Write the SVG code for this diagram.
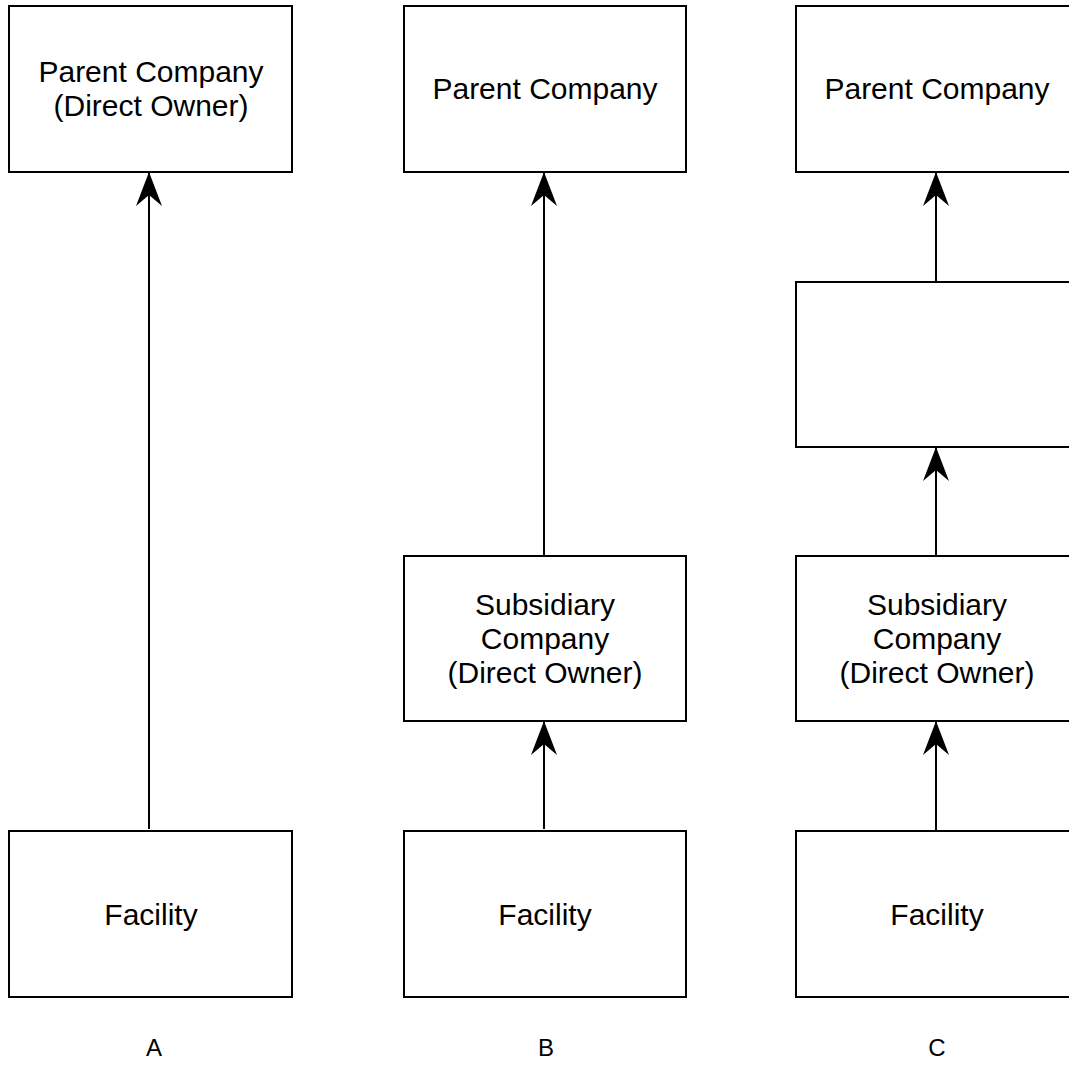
<svg xmlns="http://www.w3.org/2000/svg" width="1069" height="1069" viewBox="0 0 1069 1069">
<style>
.box{fill:#fff;stroke:#000;stroke-width:2}
.t{font-family:"Liberation Sans",Arial,sans-serif;font-size:30px;fill:#000;text-anchor:middle}
.lbl{font-family:"Liberation Sans",Arial,sans-serif;font-size:24px;fill:#000;text-anchor:middle}
.c{stroke:#000;stroke-width:2;fill:none;marker-end:url(#ah)}
</style>
<defs>
<marker id="ah" viewBox="0 0 34 26" refX="34" refY="13" markerWidth="34" markerHeight="26" markerUnits="userSpaceOnUse" orient="auto">
<path d="M0,0 L34,13 L0,26 L11,13 Z" fill="#000"/>
</marker>
</defs>
<rect width="1069" height="1069" fill="#fff"/>
<g id="connectors">
<line class="c" x1="149" y1="829" x2="149" y2="172"/>
<line class="c" x1="544" y1="555" x2="544" y2="172"/>
<line class="c" x1="544" y1="829" x2="544" y2="721"/>
<line class="c" x1="936" y1="282" x2="936" y2="172"/>
<line class="c" x1="936" y1="555" x2="936" y2="447"/>
<line class="c" x1="936" y1="833" x2="936" y2="721"/>
</g>
<g id="a-parent"><rect class="box" x="9" y="6" width="283" height="166"/><text class="t" x="151" y="82">Parent Company</text><text class="t" x="151" y="116">(Direct Owner)</text></g>
<g id="a-facility"><rect class="box" x="9" y="831" width="283" height="166"/><text class="t" x="151" y="925">Facility</text></g>
<g id="b-parent"><rect class="box" x="404" y="6" width="282" height="166"/><text class="t" x="545" y="99">Parent Company</text></g>
<g id="b-subsidiary"><rect class="box" x="404" y="556" width="282" height="165"/><text class="t" x="545" y="615">Subsidiary</text><text class="t" x="545" y="649">Company</text><text class="t" x="545" y="683">(Direct Owner)</text></g>
<g id="b-facility"><rect class="box" x="404" y="831" width="282" height="166"/><text class="t" x="545" y="925">Facility</text></g>
<g id="c-parent"><rect class="box" x="796" y="6" width="283" height="166"/><text class="t" x="937" y="99">Parent Company</text></g>
<g id="c-middle"><rect class="box" x="796" y="282" width="283" height="165"/></g>
<g id="c-subsidiary"><rect class="box" x="796" y="556" width="283" height="165"/><text class="t" x="937" y="615">Subsidiary</text><text class="t" x="937" y="649">Company</text><text class="t" x="937" y="683">(Direct Owner)</text></g>
<g id="c-facility"><rect class="box" x="796" y="831" width="283" height="166"/><text class="t" x="937" y="925">Facility</text></g>
<g id="labels"><text class="lbl" x="154" y="1056">A</text><text class="lbl" x="546" y="1056">B</text><text class="lbl" x="937" y="1056">C</text></g>
</svg>
